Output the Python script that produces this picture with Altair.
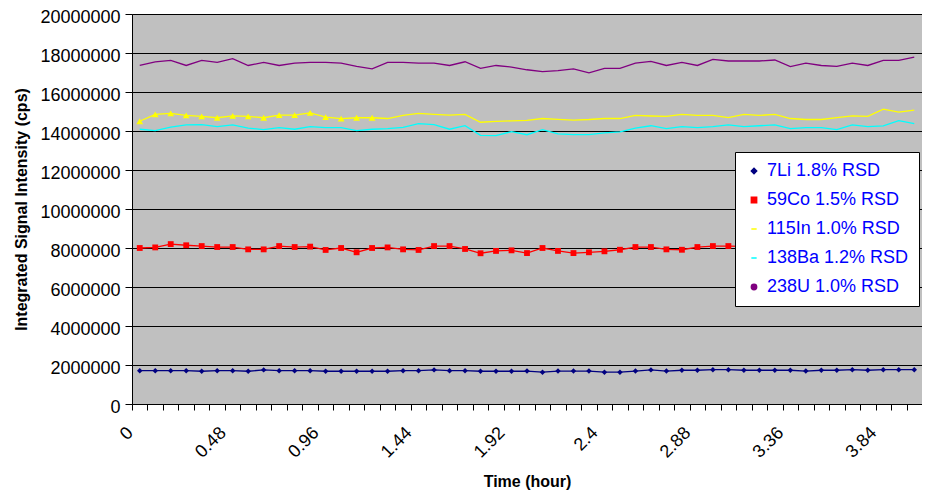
import altair as alt
import pandas as pd

# ---------------- data (values in millions of cps) ----------------
series = ["7Li 1.8% RSD", "59Co 1.5% RSD", "115In 1.0% RSD", "138Ba 1.2% RSD", "238U 1.0% RSD"]
times = [0, 0.08, 0.16, 0.24, 0.32, 0.4, 0.48, 0.56, 0.64, 0.72, 0.8, 0.88, 0.96, 1.04, 1.12, 1.2, 1.28,
         1.36, 1.44, 1.52, 1.6, 1.68, 1.76, 1.84, 1.92, 2.0, 2.08, 2.16, 2.24, 2.32, 2.4, 2.48, 2.56, 2.64,
         2.72, 2.8, 2.88, 2.96, 3.04, 3.12, 3.2, 3.28, 3.36, 3.44, 3.52, 3.6, 3.68, 3.76, 3.84, 3.92, 4.0]
tick_labels = ["0", "0.48", "0.96", "1.44", "1.92", "2.4", "2.88", "3.36", "3.84"]
y_ticks = [0, 2000000, 4000000, 6000000, 8000000, 10000000, 12000000, 14000000, 16000000, 18000000, 20000000]

li = [1.71, 1.71, 1.71, 1.71, 1.68, 1.71, 1.71, 1.68, 1.75, 1.71, 1.71, 1.71, 1.68, 1.68, 1.68, 1.68, 1.68,
      1.71, 1.71, 1.75, 1.71, 1.71, 1.68, 1.68, 1.68,
      1.69, 1.63, 1.69, 1.69, 1.69, 1.63, 1.63, 1.69, 1.75, 1.69, 1.73, 1.73, 1.76, 1.76, 1.73, 1.73, 1.73,
      1.73, 1.69, 1.73, 1.73, 1.76, 1.73, 1.76, 1.76, 1.76]
co = [8.0, 8.03, 8.2, 8.14, 8.1, 8.05, 8.05, 7.93, 7.93, 8.1, 8.05, 8.07, 7.9, 8.0, 7.78, 8.0, 8.03, 7.93,
      7.9, 8.1, 8.1, 7.95, 7.73, 7.85, 7.88, 7.74,
      8.0, 7.85, 7.74, 7.78, 7.83, 7.91, 8.05, 8.05, 7.93, 7.91, 8.05, 8.1, 8.1,
      8.08, 8.05, 8.1, 8.02, 8.05, 8.08, 8.0, 8.06, 8.1, 8.03, 8.07, 8.05]
indium = [14.5, 14.85, 14.9, 14.8, 14.75, 14.68, 14.78, 14.75, 14.68, 14.81, 14.81, 14.93, 14.71, 14.63,
          14.68, 14.68, 14.64, 14.8, 14.9, 14.85, 14.81, 14.85, 14.45, 14.49, 14.52,
          14.54, 14.64, 14.6, 14.56, 14.59, 14.64, 14.64, 14.8, 14.77, 14.75, 14.85, 14.8, 14.8, 14.69,
          14.85, 14.8, 14.85, 14.64, 14.59, 14.59, 14.69, 14.78, 14.75, 15.12, 14.97, 15.07]
ba = [14.09, 14.02, 14.2, 14.31, 14.33, 14.22, 14.31, 14.15, 14.07, 14.17, 14.09, 14.22, 14.17, 14.17,
      14.02, 14.09, 14.12, 14.19, 14.38, 14.33, 14.09, 14.27, 13.78, 13.76, 13.97,
      13.81, 14.07, 13.85, 13.81, 13.81, 13.9, 13.95, 14.15, 14.27, 14.12, 14.22, 14.17, 14.22, 14.31,
      14.22, 14.27, 14.31, 14.12, 14.17, 14.17, 14.07, 14.31, 14.22, 14.26, 14.53, 14.38]
u = [17.36, 17.54, 17.62, 17.36, 17.62, 17.52, 17.71, 17.36, 17.52, 17.36, 17.48, 17.52, 17.52, 17.48,
     17.31, 17.19, 17.52, 17.52, 17.48, 17.48, 17.36, 17.55, 17.21, 17.36, 17.28,
     17.14, 17.05, 17.1, 17.19, 16.98, 17.21, 17.21, 17.48, 17.57, 17.36, 17.52, 17.36, 17.67, 17.59,
     17.59, 17.59, 17.64, 17.30, 17.48, 17.36, 17.31, 17.48, 17.36, 17.62, 17.62, 17.79]
in_marker_count = 16  # In triangles drawn on the first points only

colors = ["#000080", "#FF0000", "#FFFF00", "#00FFFF", "#800080"]
values_by_series = [li, co, indium, ba, u]

# ---------------- table ----------------
rows = []
for name, vals in zip(series, values_by_series):
    for i, (t, v) in enumerate(zip(times, vals)):
        rows.append({"series": name, "idx": i, "time": t, "value": v * 1e6})
df = pd.DataFrame(rows)

# x axis: ticks on category boundaries, labels every 6th category
label_arr = []
for k in range(len(times) + 1):
    label_arr.append(tick_labels[k // 6] if (k % 6 == 0 and k // 6 < len(tick_labels)) else "")
label_expr = "[" + ",".join("'%s'" % s for s in label_arr) + "][datum.value + 0.5]"

FONT = "Liberation Sans"

x_enc = alt.X(
    "idx:Q",
    title="Time (hour)",
    scale=alt.Scale(domain=[-0.5, len(times) - 0.5], nice=False, zero=False),
    axis=alt.Axis(
        values=[k - 0.5 for k in range(len(times) + 1)],
        labelExpr=label_expr,
        labelAngle=-45, labelAlign="right", labelBaseline="middle",
        labelPadding=20, labelOffset=-2,
        labelFont=FONT, labelFontSize=18, labelColor="black",
        labelOverlap=False, labelBound=False, labelFlush=False,
        tickSize=6, tickColor="black", domainColor="black", grid=False,
        titleFont=FONT, titleFontSize=16, titleFontWeight="bold", titleColor="black",
        titlePadding=12,
    ),
)
y_enc = alt.Y(
    "value:Q",
    title="Integrated Signal Intensity (cps)",
    scale=alt.Scale(domain=[0, 20000000], nice=False),
    axis=alt.Axis(
        values=y_ticks, format="d",
        labelFont=FONT, labelFontSize=18, labelColor="black", labelPadding=5, labelOffset=3,
        tickSize=7, tickColor="black", domainColor="black",
        grid=True, gridColor="black", gridWidth=1,
        titleFont=FONT, titleFontSize=16, titleFontWeight="bold", titleColor="black",
        titlePadding=10,
    ),
)

layers = []
# lines
for name, col in zip(series, colors):
    sub = df[df.series == name]
    layers.append(alt.Chart(sub).mark_line(strokeWidth=1.3, color=col).encode(x=x_enc, y=y_enc))

# markers
li_df = df[df.series == series[0]]
co_df = df[df.series == series[1]]
in_df = df[(df.series == series[2]) & (df.idx < in_marker_count)]
layers.append(alt.Chart(li_df).mark_point(shape="diamond", filled=True, size=30, color=colors[0], opacity=1)
              .encode(x=x_enc, y=y_enc))
layers.append(alt.Chart(co_df).mark_point(shape="square", filled=True, size=34, color=colors[1], opacity=1)
              .encode(x=x_enc, y=y_enc))
layers.append(alt.Chart(in_df).mark_point(shape="triangle-up", filled=True, size=45, color=colors[2], opacity=1)
              .encode(x=x_enc, y=y_enc))

# legend-only layer (no drawable points: y is null)
leg_df = pd.DataFrame({"series": series, "idx": [None] * 5, "value": [None] * 5})
legend = alt.Legend(
    title=None, orient="none", legendX=603, legendY=138,
    fillColor="white", strokeColor="black", padding=10, cornerRadius=0,
    labelFont=FONT, labelFontSize=18, labelColor="#0000FF", labelOffset=4,
    rowPadding=11, symbolStrokeWidth=1.5,
)
shapes = ["diamond", "square", "stroke", "stroke", "circle"]
sizes = [28, 28, 484, 484, 2]
layers.append(
    alt.Chart(leg_df).mark_point(filled=True, opacity=1).encode(
        x=x_enc, y=y_enc,
        fill=alt.Fill("series:N", scale=alt.Scale(domain=series, range=colors), legend=legend),
        stroke=alt.Stroke("series:N", scale=alt.Scale(domain=series, range=colors), legend=legend),
        shape=alt.Shape("series:N", scale=alt.Scale(domain=series, range=shapes), legend=legend),
        size=alt.Size("series:N", scale=alt.Scale(domain=series, range=sizes), legend=legend),
    )
)

chart = alt.layer(*layers).properties(
    width=790, height=390,
    autosize=alt.AutoSizeParams(type="none"),
    padding={"left": 124, "top": 6, "right": 0, "bottom": 88},
    background="white",
).configure_view(fill="#C0C0C0", stroke="#808080", strokeWidth=1)

chart.save("out.html", embed_options={"renderer": "svg", "actions": False})
